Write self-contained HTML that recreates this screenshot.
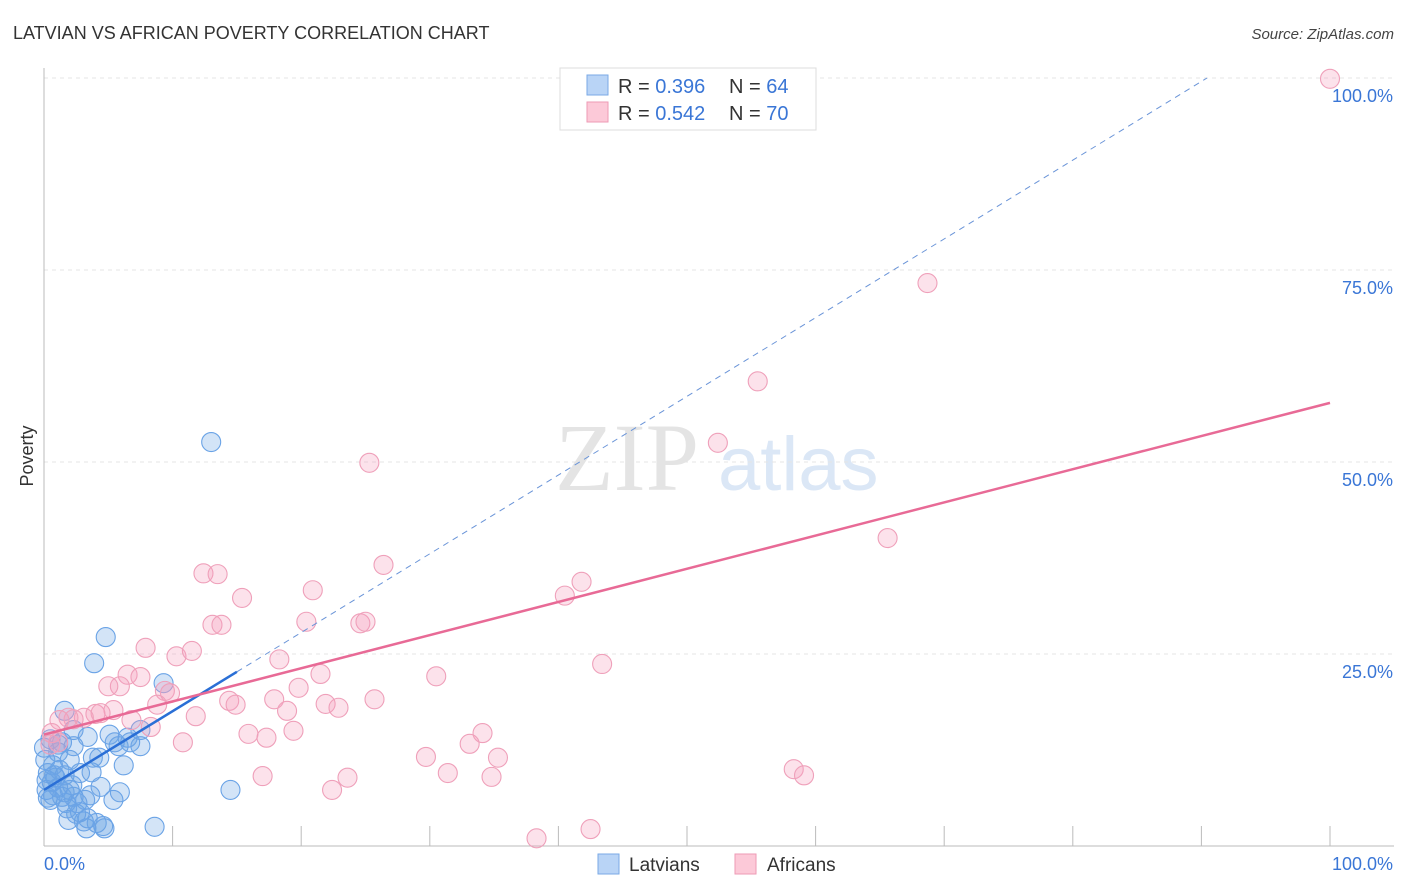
<!DOCTYPE html>
<html><head><meta charset="utf-8"><style>
body{margin:0;background:#fff;font-family:"Liberation Sans",sans-serif}
svg{display:block}
</style></head><body>
<svg id="chart" width="1406" height="892" xmlns="http://www.w3.org/2000/svg">
<text x="13" y="39" font-size="18" fill="#333">LATVIAN VS AFRICAN POVERTY CORRELATION CHART</text>
<text x="1394" y="39" font-size="15" font-style="italic" fill="#444" text-anchor="end">Source: ZipAtlas.com</text>
<text x="33" y="456" font-size="18" fill="#333" text-anchor="middle" transform="rotate(-90 33 456)">Poverty</text>
<g>
<text x="555" y="490" font-family="Liberation Serif,serif" font-size="96" fill="#e4e4e4">ZIP</text>
<text x="718" y="490" font-size="76" fill="#dbe7f6">atlas</text>
</g>
<g id="grid"></g><g id="axes"></g>
<g id="marks"></g>
<g>
<rect x="560" y="68" width="256" height="62" fill="#fff" stroke="#ddd"/>
<rect x="587" y="75" width="21" height="20" fill="#b9d4f6" stroke="#7aa9e6"/>
<rect x="587" y="102" width="21" height="20" fill="#fcc9d8" stroke="#ee9ab5"/>
<text x="618" y="93" font-size="20" fill="#333">R = <tspan fill="#3a76d6">0.396</tspan><tspan x="729">N = </tspan><tspan fill="#3a76d6">64</tspan></text>
<text x="618" y="120" font-size="20" fill="#333">R = <tspan fill="#3a76d6">0.542</tspan><tspan x="729">N = </tspan><tspan fill="#3a76d6">70</tspan></text>
</g>
<g>
<rect x="598" y="854" width="21" height="20" fill="#b9d4f6" stroke="#7aa9e6"/>
<text x="629" y="871" font-size="19" fill="#333">Latvians</text>
<rect x="735" y="854" width="21" height="20" fill="#fcc9d8" stroke="#ee9ab5"/>
<text x="767" y="871" font-size="19" fill="#333">Africans</text>
</g>
</svg>
<script>
const yTicks=[25,50,75,100];
const yTickLabels=["25.0%","50.0%","75.0%","100.0%"];
const xTicks=[0,10,20,30,40,50,60,70,80,90,100];
const latX=[13.0,4.8,3.9,9.3,1.6,0.5,2.3,3.4,1.1,5.5,6.5,7.5,5.8,4.3,3.8,6.2,3.7,0.7,1.2,0.3,1.6,2.8,0.9,0.2,2.0,4.4,5.9,14.5,0.7,1.4,2.3,3.2,2.6,5.4,0.3,1.1,1.8,2.8,3.4,2.5,1.9,4.1,3.3,4.7,8.6,1.6,0.6,0.1,1.1,2.0,2.3,1.4,0,0.5,5.1,7.5,1.7,3.1,6.7,0.8,0.2,2.2,3.6,4.6];
const latY=[52.6,27.2,23.8,21.2,17.6,13.9,15.1,14.2,13.2,13.5,14.1,13.0,13.0,11.5,11.5,10.5,9.6,10.5,9.9,9.5,9.2,9.5,8.9,8.6,7.3,7.7,7.0,7.3,6.6,6.4,6.4,6.0,5.6,6.0,6.3,7.6,4.9,4.4,3.6,4.2,3.4,3.0,2.3,2.3,2.5,7.0,8.3,11.2,12.2,11.2,13.0,13.5,12.8,6.0,14.5,15.1,5.6,3.2,13.5,9.2,7.3,7.9,6.6,2.6];
const afrX=[100,68.7,55.5,52.4,25.3,65.6,26.4,41.8,40.5,12.4,13.5,20.9,15.4,20.4,13.1,13.8,24.6,25.0,7.9,10.3,11.5,18.3,43.4,6.5,7.5,5.9,5.0,9.4,9.8,19.8,21.5,30.5,14.4,14.9,17.9,25.7,8.8,21.9,22.9,5.4,4.0,4.4,3.1,2.3,1.9,1.2,6.8,11.8,18.9,15.9,17.3,19.4,10.8,8.3,34.1,33.1,35.3,29.7,31.4,17.0,23.6,22.4,34.8,58.3,59.1,38.3,42.5,0.6,0.5,1.1];
const afrY=[99.9,73.3,60.5,52.5,49.9,40.1,36.6,34.4,32.6,35.5,35.4,33.3,32.3,29.2,28.8,28.8,29.0,29.2,25.8,24.7,25.4,24.3,23.7,22.3,22.0,20.8,20.8,20.2,19.9,20.6,22.4,22.1,18.9,18.4,19.1,19.1,18.4,18.5,18.0,17.7,17.2,17.3,16.7,16.5,16.7,16.4,16.4,16.9,17.6,14.6,14.1,15.0,13.5,15.5,14.7,13.3,11.5,11.6,9.5,9.1,8.9,7.3,9.0,10.0,9.2,1.0,2.2,14.7,13.2,13.5];
const latTrend=[7.3,1.025];
const afrTrend=[14.5,0.432];
const NS="http://www.w3.org/2000/svg";
const X=v=>44+v*12.86, Y=v=>846-v*7.68;
function mk(tag,attrs,parent){const e=document.createElementNS(NS,tag);for(const k in attrs)e.setAttribute(k,attrs[k]);parent.appendChild(e);return e;}
const grid=document.getElementById('grid'),axes=document.getElementById('axes'),marks=document.getElementById('marks');
yTicks.forEach((t,i)=>{
 const l=mk('line',{x1:44,x2:1394,y1:Y(t),y2:Y(t),stroke:'#e4e4e4','stroke-dasharray':'4,4'},grid);
 
 
 const tx=mk('text',{x:1393,y:Y(t)+24,'font-size':18,fill:'#3a76d6','text-anchor':'end'},axes);
 tx.textContent=yTickLabels[i];
 
 
});
const ax=mk('line',{x1:44,x2:44,y1:68,y2:846,stroke:'#bbb'},axes);


const bx=mk('line',{x1:44,x2:1394,y1:846,y2:846,stroke:'#bbb'},axes);


xTicks.forEach(t=>{const l=mk('line',{x1:X(t),x2:X(t),y1:826,y2:846,stroke:'#bbb'},axes);
 
 });
const x0=mk('text',{x:44,y:870,'font-size':18,fill:'#3a76d6'},axes);x0.textContent='0.0%';


const x1=mk('text',{x:1393,y:870,'font-size':18,fill:'#3a76d6','text-anchor':'end'},axes);x1.textContent='100.0%';


latX.forEach((v,i)=>{const c=mk('circle',{cx:X(v),cy:Y(latY[i]),r:9.5,fill:'rgba(110,165,230,0.3)',stroke:'#6aa3e6','stroke-width':1.1},marks);
 
 });
afrX.forEach((v,i)=>{const c=mk('circle',{cx:X(v),cy:Y(afrY[i]),r:9.5,fill:'rgba(245,160,190,0.3)',stroke:'#efa0ba','stroke-width':1.1},marks);
 
 });
const lf=x=>latTrend[0]+latTrend[1]*x, xe=(100-latTrend[0])/latTrend[1];
const ld=mk('line',{x1:X(15),y1:Y(lf(15)),x2:X(xe),y2:Y(100),stroke:'#6a94d8','stroke-width':1,'stroke-dasharray':'6,5'},marks);


const ls=mk('line',{x1:X(0),y1:Y(lf(0)),x2:X(15),y2:Y(lf(15)),stroke:'#2a6fd6','stroke-width':2.5},marks);


const af=x=>afrTrend[0]+afrTrend[1]*x;
const as=mk('line',{x1:X(0),y1:Y(af(0)),x2:X(100),y2:Y(af(100)),stroke:'#e86a96','stroke-width':2.5},marks);


</script>
</body></html>
